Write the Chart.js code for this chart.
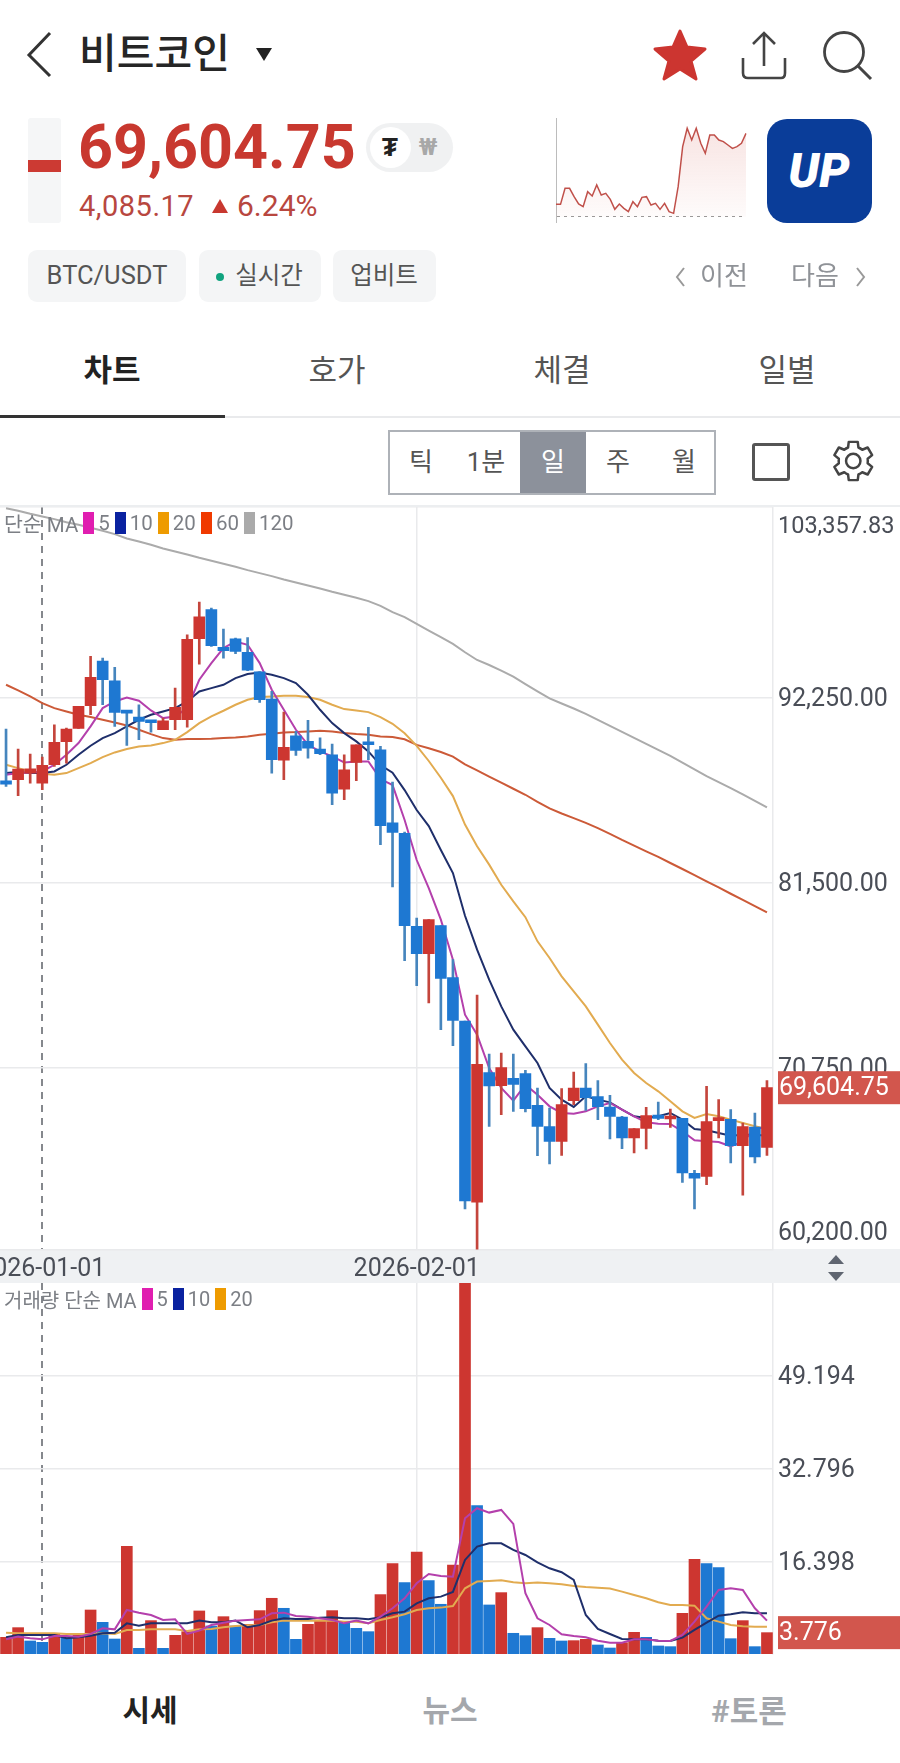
<!DOCTYPE html>
<html lang="ko">
<head>
<meta charset="utf-8">
<title>비트코인</title>
<script src="https://cdn.jsdelivr.net/npm/chart.js@4"></script>
<style>
html,body{margin:0;padding:0;background:#fff;}
#page{position:relative;width:900px;height:1763px;overflow:hidden;background:#fff;font-family:Roboto,"Noto Sans CJK KR",sans-serif;color:#222;}
.t{position:absolute;white-space:nowrap;line-height:1;}
.c{transform:translate(-50%,-50%);}
.m{transform:translateY(-50%);}
.box{position:absolute;box-sizing:border-box;}
canvas{position:absolute;display:block;}
svg{position:absolute;overflow:visible;}
.chip{position:absolute;background:#f4f5f6;border-radius:9px;top:250px;height:52px;}
.seg{position:absolute;top:432px;height:61px;width:66px;text-align:center;line-height:60px;font-size:26px;color:#555;}
.legend{position:absolute;left:4px;font-size:20.5px;color:#7c7f85;white-space:nowrap;display:flex;align-items:center;height:24px;}
.legend i{display:inline-block;width:11px;height:22px;margin:0 4px 0 5px;}
.legend span{display:inline-block;}
</style>
</head>
<body>
<div id="page">
  <!-- header -->
  <svg style="left:0;top:0" width="900" height="120"><polyline points="50,33 29,55 50,76" fill="none" stroke="#333" stroke-width="3"/>
    <polygon points="680,31 687,47 705,49 691,61 696,79 680,69 664,79 669,61 655,49 673,47" fill="#cc3530" stroke="#cc3530" stroke-width="3" stroke-linejoin="round"/>
    <path d="M743,58 V73 Q743,78 748,78 H781 Q785,78 785,73 V58" fill="none" stroke="#444" stroke-width="2.6"/>
    <path d="M764,66 V33 M753,44 L764,33 L775,44" fill="none" stroke="#444" stroke-width="2.6"/>
    <circle cx="844" cy="52" r="19.500" fill="none" stroke="#444" stroke-width="2.8"/><line x1="858" y1="66" x2="871" y2="79" stroke="#444" stroke-width="3"/>
    <polygon points="256,48 272,48 264,61" fill="#222"/></svg>
  <div class="t m" style="left:79px;top:54px;font-size:41px;font-weight:500;color:#262626;">비트코인</div>

  <div class="box" style="left:28px;top:118px;width:33px;height:105px;background:#f5f6f7;border-radius:3px;"></div>
  <div class="box" style="left:28px;top:160px;width:33px;height:12px;background:#cc3a33;"></div>
  <div class="t m" style="left:78px;top:147px;font-size:61px;font-weight:700;color:#c8382f;">69,604.75</div>
  <div class="t m" style="left:79px;top:206px;font-size:29px;letter-spacing:.5px;color:#b8473f;">4,085.17</div>
  <svg style="left:0;top:0" width="300" height="230"><polygon points="212,213 228,213 220,199" fill="#c8382f"/></svg>
  <div class="t m" style="left:237px;top:206px;font-size:30px;color:#b8473f;">6.24%</div>
  <div class="box" style="left:366px;top:123px;width:87px;height:49px;background:#f0f1f2;border-radius:25px;"></div>
  <div class="box" style="left:370px;top:127px;width:41px;height:41px;background:#fff;border-radius:50%;"></div>
  <div class="t c" style="left:390px;top:147px;font-size:26px;font-weight:700;color:#222;">₮</div>
  <div class="t c" style="left:428px;top:147px;font-size:23px;font-weight:700;color:#a8a8a8;">₩</div>
  <canvas id="spark" width="202" height="105" style="left:546px;top:118px;"></canvas>
  <div class="box" style="left:767px;top:119px;width:105px;height:104px;background:#0a3d99;border-radius:20px;"></div>
  <div class="t c" style="left:819px;top:171px;font-size:48px;font-weight:900;font-style:italic;color:#fff;">UP</div>

  <div class="chip" style="left:28px;width:158px;"></div>
  <div class="t c" style="left:107px;top:276px;font-size:25.500px;color:#555;">BTC/USDT</div>
  <div class="chip" style="left:199px;width:122px;"></div>
  <div class="box" style="left:216px;top:273px;width:8px;height:8px;border-radius:50%;background:#10a37f;"></div>
  <div class="t c" style="left:269px;top:276px;font-size:24.500px;color:#555;">실시간</div>
  <div class="chip" style="left:333px;width:103px;"></div>
  <div class="t c" style="left:384px;top:276px;font-size:24.500px;color:#555;">업비트</div>
  <svg style="left:0;top:0" width="900" height="300"><polyline points="684,268 677,277 684,286" fill="none" stroke="#999" stroke-width="2"/><polyline points="857,268 864,277 857,286" fill="none" stroke="#999" stroke-width="2"/></svg>
  <div class="t c" style="left:724px;top:276px;font-size:26px;color:#8f9297;">이전</div>
  <div class="t c" style="left:815px;top:276px;font-size:26px;color:#8f9297;">다음</div>

  <!-- tabs -->
  <div class="t c" style="left:112px;top:370px;font-size:31px;font-weight:700;color:#222;">차트</div>
  <div class="t c" style="left:337px;top:370px;font-size:31px;color:#555;">호가</div>
  <div class="t c" style="left:562px;top:370px;font-size:31px;color:#555;">체결</div>
  <div class="t c" style="left:787px;top:370px;font-size:31px;color:#555;">일별</div>
  <div class="box" style="left:0;top:416px;width:900px;height:2px;background:#e9eaec;"></div>
  <div class="box" style="left:0;top:415px;width:225px;height:3px;background:#333;"></div>

  <!-- period control -->
  <div class="box" style="left:388px;top:430px;width:328px;height:65px;border:2px solid #aeb2b8;"></div>
  <div class="seg" style="left:388px;">틱</div>
  <div class="seg" style="left:453px;">1분</div>
  <div class="seg" style="left:520px;background:#8c919b;color:#fff;">일</div>
  <div class="seg" style="left:585px;">주</div>
  <div class="seg" style="left:651px;">월</div>
  <div class="box" style="left:752px;top:443px;width:38px;height:38px;border:3px solid #555;border-radius:3px;"></div>
  <svg style="left:824px;top:434px" width="54" height="54" viewBox="0 0 24 24"><path d="M19.4 13a7.500 7.500 0 0 0 0-2l2-1.600-2-3.400-2.400 1a7.500 7.500 0 0 0-1.700-1L15 3.500h-4l-.3 2.500a7.500 7.500 0 0 0-1.700 1l-2.400-1-2 3.400 2 1.600a7.500 7.500 0 0 0 0 2l-2 1.600 2 3.400 2.400-1a7.500 7.500 0 0 0 1.700 1l.3 2.500h4l.3-2.500a7.500 7.500 0 0 0 1.700-1l2.400 1 2-3.400z" fill="none" stroke="#444" stroke-width="1.100" stroke-linejoin="round"/><circle cx="13" cy="12" r="3.200" fill="none" stroke="#444" stroke-width="1.100"/></svg>

  <!-- chart panes -->
  <div class="box" style="left:0;top:505px;width:900px;height:2px;background:#eceef0;"></div>
  <div class="box" style="left:0;top:1249px;width:900px;height:34px;background:#eff1f3;"></div>
  <canvas id="price" width="900" height="776" style="left:0;top:507px;"></canvas>
  <canvas id="volume" width="900" height="373" style="left:0;top:1283px;"></canvas>
  <svg style="left:0;top:0" width="900" height="1300"><polygon points="828,1264 844,1264 836,1255" fill="#5f6570"/><polygon points="828,1272 844,1272 836,1281" fill="#5f6570"/></svg>

  <div class="legend" style="top:511px;"><span>단순 MA</span><i style="background:#e01eb0"></i><span>5</span><i style="background:#0a22a0"></i><span>10</span><i style="background:#ee9b00"></i><span>20</span><i style="background:#f03a00"></i><span>60</span><i style="background:#aaaaaa"></i><span>120</span></div>
  <div class="legend" style="top:1287px;font-size:20px;"><span>거래량 단순 MA</span><i style="background:#e01eb0"></i><span>5</span><i style="background:#0a22a0"></i><span>10</span><i style="background:#ee9b00"></i><span>20</span></div>

  <!-- bottom nav -->
  <div class="t c" style="left:150px;top:1711px;font-size:30px;font-weight:700;color:#222;">시세</div>
  <div class="t c" style="left:450px;top:1711px;font-size:30px;font-weight:700;color:#a4a7ac;">뉴스</div>
  <div class="t c" style="left:749px;top:1711px;font-size:31px;font-weight:700;color:#a4a7ac;">#토론</div>
</div>

<script>
const dates = ["2025-12-29","2025-12-30","2025-12-31",
"2026-01-01","2026-01-02","2026-01-03","2026-01-04","2026-01-05","2026-01-06","2026-01-07","2026-01-08","2026-01-09","2026-01-10","2026-01-11","2026-01-12","2026-01-13","2026-01-14","2026-01-15","2026-01-16","2026-01-17","2026-01-18","2026-01-19","2026-01-20","2026-01-21","2026-01-22","2026-01-23","2026-01-24","2026-01-25","2026-01-26","2026-01-27","2026-01-28","2026-01-29","2026-01-30","2026-01-31",
"2026-02-01","2026-02-02","2026-02-03","2026-02-04","2026-02-05","2026-02-06","2026-02-07","2026-02-08","2026-02-09","2026-02-10","2026-02-11","2026-02-12","2026-02-13","2026-02-14","2026-02-15","2026-02-16","2026-02-17","2026-02-18","2026-02-19","2026-02-20","2026-02-21","2026-02-22","2026-02-23","2026-02-24","2026-02-25","2026-02-26","2026-02-27","2026-02-28",
"2026-03-01","2026-03-02"];
const dateLabels = ["2026-01-01","2026-02-01"];
const dashedDate = "2026-01-01";

const opens  = [87446,87504,87892,87311,88376,89713,90487,91804,94400,93257,91436,91146,90875,90410,90991,90991,95698,97402,95194,95698,94904,93780,92192,88647,90061,89732,89286,88957,86962,88512,89577,89248,85006,84386,
78982,77394,79021,75999,73481,62944,70479,69723,70150,70421,68581,67341,66489,68852,69588,69084,68484,67903,66682,67244,68019,67786,67825,64629,64455,67690,67767,66237,67322,66140];
const highs  = [90449,89286,88996,88822,90700,90507,91766,94671,94574,94032,91436,91863,90875,91088,92831,95930,97829,97480,96260,95737,95775,93780,92637,91436,90313,90952,89945,89577,88957,89538,90545,89441,87370,84463,
79467,79370,79021,77045,73481,74992,71564,71622,71564,70614,69588,68426,69549,70518,71002,70014,69162,67941,67225,68464,68774,68367,67825,64803,69685,68910,68329,67554,68135,70014];
const lows   = [87117,86575,87311,86923,88279,88473,90487,91281,91863,90604,89499,89829,90274,90410,90410,90565,94226,95252,94574,94826,93838,91998,87892,87504,88918,88763,88957,86052,86342,87446,88667,83727,81269,76987,
75534,74527,72978,72048,62556,60100,67360,68038,68232,68193,65656,65171,65675,68619,68290,67748,66624,66062,65811,66043,67748,67302,64106,62556,63970,66682,65230,63351,65230,65675];
const closes = [87253,88124,88144,88337,89674,90449,91766,93451,93315,91417,91378,90894,90817,90933,91708,95659,96976,95291,95001,94962,93877,92153,88667,89383,89209,89344,89015,86730,88085,89538,89538,84831,84444,79021,
77394,79370,75961,73520,63021,70963,69704,70769,69801,68387,67360,66489,68619,69588,69026,68503,67941,66682,67225,67980,67825,67844,64648,64339,67631,67767,66237,67341,65578,69604.75];

const ma5 = [87795,87892,87930,87989,88376,88957,89635,90604,91669,92056,92289,92095,91533,91088,91185,91669,93315,94284,95156,95543,95349,94284,92734,91572,90410,89538,89151,88860,88512,88570,88570,87544,87195,85162,
82838,81211,79370,77045,73849,72687,70750,69588,68852,69781,69200,68522,68135,68096,68232,68522,68716,68329,67941,67593,67515,67496,67070,66547,66489,66450,66198,66489,67167,67360];
const ma10 = [87892,87950,87892,87892,87989,88376,88957,89480,89926,90216,90604,90991,91281,91475,91669,92056,92637,92831,93025,93412,93645,93741,93606,93412,93122,92444,91572,90797,90216,89732,89151,88357,87918,86905,
85743,84813,83419,82082,79600,77626,75883,74333,72978,72009,71041,69588,68910,68484,69104,68910,68755,68329,67941,67844,67941,68135,67748,67205,67128,66973,66818,66876,66876,66818];
const ma20 = [88376,88182,87989,87853,87795,87892,88182,88473,88822,89093,89286,89441,89499,89635,89829,90274,90797,91185,91514,91863,92153,92308,92347,92386,92386,92308,92153,91863,91611,91533,91436,91146,90759,90209,
89470,88595,87623,86554,84902,83638,82569,81402,80430,79517,78111,77142,76077,75205,74333,73268,72203,71234,70459,69878,69394,68813,68232,67844,68077,67941,67748,67554,67360,67205];
const ma60 = [93025,92695,92347,91960,91669,91475,91281,91146,90991,90836,90662,90410,90158,89926,89829,89868,89868,89887,89926,89964,90022,90119,90177,90255,90274,90313,90352,90313,90216,90158,90119,90022,89984,89859,
89528,89334,89120,88848,88401,88051,87682,87332,86982,86632,86224,85835,85543,85271,84999,84688,84357,84007,83677,83346,83016,82666,82316,81966,81597,81247,80878,80528,80158,79789];
const ma120 = [103291,103136,102962,102807,102652,102477,102322,102148,101974,101780,101528,101354,101160,100947,100773,100598,100405,100230,100056,99882,99688,99514,99339,99146,98971,98797,98623,98429,98255,98080,97887,97615,97247,96954,
96566,96177,95788,95399,94913,94466,94175,93844,93494,93066,92639,92231,91939,91647,91336,90986,90636,90287,89937,89587,89237,88887,88498,88109,87720,87371,87021,86651,86282,85893];

const volumes = [2.95,4.66,2.30,2.06,3.54,2.89,3.36,7.78,5.60,2.65,19.04,1.00,5.90,1.00,3.30,3.95,7.61,4.95,6.60,4.95,5.25,7.67,9.85,8.08,2.59,5.25,6.01,7.67,5.42,4.54,3.95,10.50,15.98,12.62,
18.04,12.97,8.79,15.74,70.00,26.24,8.67,10.85,3.66,3.24,4.66,2.77,2.30,2.36,2.59,1.59,1.06,2.00,3.83,2.95,1.42,1.30,7.19,16.75,15.98,15.27,2.71,5.90,1.30,3.776];
const volumeUp = [1,1,0,0,1,0,1,1,0,0,1,0,1,0,1,1,1,0,1,0,1,1,1,0,0,1,1,1,0,0,0,1,1,0,
1,0,0,1,1,0,0,1,0,0,1,0,0,1,1,0,0,1,1,0,0,0,1,1,0,0,0,1,0,1];
const volMa5 = [2.59,3.07,2.77,2.59,3.18,3.18,3.07,3.54,4.54,4.36,7.78,7.31,6.90,6.01,6.13,3.54,4.13,5.13,5.54,5.90,6.01,6.13,7.19,7.31,6.72,6.60,6.31,6.01,5.42,5.90,5.42,6.60,8.08,9.85,
12.50,14.15,13.80,13.68,24.00,25.77,25.00,25.47,23.00,10.73,6.31,5.13,3.48,3.18,2.95,2.36,2.00,2.00,2.59,2.59,2.36,2.30,3.36,5.72,8.37,11.32,11.62,11.32,8.08,5.90];
const volMa10 = [2.95,3.36,3.36,3.36,3.36,2.77,2.95,3.24,3.66,3.77,5.42,5.01,5.42,5.42,5.42,5.42,5.90,5.60,5.60,5.90,4.72,5.13,5.90,6.31,6.19,6.19,6.43,6.49,6.31,6.31,6.13,6.49,7.19,7.49,
8.96,9.85,10.14,10.97,16.63,18.99,19.58,19.58,18.40,17.51,16.21,15.15,14.45,13.09,6.90,4.42,3.54,2.65,2.59,2.59,2.36,2.30,2.89,4.25,5.54,6.78,7.02,7.37,7.19,7.19];
const volMa20 = [3.77,3.66,3.66,3.66,3.66,3.54,3.54,3.54,3.66,3.54,4.25,4.25,4.36,4.36,4.36,4.07,4.36,4.42,4.72,4.95,5.07,5.13,5.60,5.90,5.90,5.90,5.90,5.90,5.72,5.72,5.42,6.01,6.49,7.02,
7.78,8.08,8.20,8.49,11.62,12.80,12.91,13.03,12.68,12.50,12.62,12.50,12.32,12.03,11.85,11.73,11.56,11.03,10.44,9.85,9.14,8.67,8.67,8.55,6.31,5.72,5.13,4.89,4.83,4.83];

const priceTicks = [60200,70750,81500,92250,103357.83];
const volumeTicks = [16.398,32.796,49.194];
const sparkValues = [37,37,85,85,60,38,30,75,62,95,65,70,52,22,38,25,15,45,30,58,60,35,40,22,40,15,10,90,210,265,230,265,220,190,245,245,230,225,215,205,210,220,250];

const RED='#cd3630', BLUE='#1e78d2', RED_W='#c4453c', BLUE_W='#4685bd';
const FONT='Roboto, "Noto Sans CJK KR", sans-serif';
const TXT='#4a4e57';
const n = dates.length;
const isUp = opens.map((o,i)=>closes[i]>=o);

function fmtPrice(v){return v.toLocaleString('en-US',{minimumFractionDigits:2,maximumFractionDigits:2});}

function xAxis(showLabels){
  return {
    type:'category', offset:true,
    grid:{offset:false, drawTicks:false,
      color:c=>dates[c.index]===dashedDate?'#85888d':(dateLabels.includes(dates[c.index])?'#e9eaec':'transparent'),
      lineWidth:c=>dates[c.index]===dashedDate?2:(dateLabels.includes(dates[c.index])?1.5:0)},
    border:{display:false, dash:c=>dates[c.index]===dashedDate?[7,6]:[]},
    ticks:{display:showLabels, autoSkip:false, maxRotation:0, minRotation:0, padding:5, color:TXT, font:{family:FONT,size:25},
      callback(v,i){const d=dates[i];return dateLabels.includes(d)?d:'';}},
    afterFit(s){s.height=showLabels?33.5:0; s.paddingLeft=0; s.paddingRight=0;}
  };
}
function maDs(label,data,color){
  return {type:'line',label,data,borderColor:color,borderWidth:2,pointRadius:0,tension:0,fill:false,order:5,spanGaps:true};
}
function priceTag(value,text,scaleId,h){
  return {id:'tag'+scaleId,afterDraw(ch){
    const y=ch.scales.y.getPixelForValue(value),ctx=ch.ctx;
    ctx.save();ctx.fillStyle='#d2564d';ctx.fillRect(778,y-h/2,122,h);
    ctx.fillStyle='#fff';ctx.font='25px '+FONT;ctx.textAlign='left';ctx.textBaseline='middle';
    ctx.fillText(text,779,y+1);ctx.restore();}};
}

new Chart(document.getElementById('price'),{
  type:'bar',
  data:{labels:dates,datasets:[
    maDs('MA5',ma5,'#b440ac'),maDs('MA10',ma10,'#1f2f6b'),maDs('MA20',ma20,'#e2ab50'),maDs('MA60',ma60,'#cc5a38'),maDs('MA120',ma120,'#ababab'),
    {label:'wick',data:lows.map((l,i)=>[l,highs[i]]),backgroundColor:isUp.map(u=>u?RED_W:BLUE_W),barThickness:2,grouped:false,order:2},
    {label:'candle',data:opens.map((o,i)=>[o,closes[i]]),backgroundColor:isUp.map(u=>u?RED:BLUE),barThickness:11,minBarLength:3,grouped:false,order:1}
  ]},
  options:{responsive:false,animation:false,layout:{padding:0},
    plugins:{legend:{display:false},tooltip:{enabled:false}},
    scales:{
      x:xAxis(true),
      y:{type:'linear',position:'right',min:60200,max:103357.83,
        afterBuildTicks(s){s.ticks=priceTicks.map(v=>({value:v}));},
        grid:{drawTicks:false,color:'#e9eaec',lineWidth:1.5},
        border:{display:true,color:'#e9eaec',width:1.5},
        ticks:{color:TXT,padding:5,labelOffset:2,
          font:c=>({family:FONT,size:c.index===4?23.5:25,lineHeight:c.index===4?1.55:1.45}),
          callback(v){const s=fmtPrice(v);return v===priceTicks[0]?[s,'']:(v===priceTicks[4]?['',s]:s);}},
        afterFit(s){s.width=127;s.paddingTop=0;s.paddingBottom=0;}
      }
    }},
  plugins:[priceTag(closes[n-1],fmtPrice(closes[n-1]),'p',33)]
});

new Chart(document.getElementById('volume'),{
  type:'bar',
  data:{labels:dates,datasets:[
    maDs('MA5',volMa5,'#b440ac'),maDs('MA10',volMa10,'#1f2f6b'),maDs('MA20',volMa20,'#e2ab50'),
    {label:'volume',data:volumes,backgroundColor:volumeUp.map(u=>u?RED:BLUE),barThickness:11,grouped:false,order:8}
  ].map(d=>{if(d.type==='line')d.order=1;return d;})},
  options:{responsive:false,animation:false,layout:{padding:{bottom:2}},
    plugins:{legend:{display:false},tooltip:{enabled:false}},
    scales:{
      x:xAxis(false),
      y:{type:'linear',position:'right',min:0,max:65.592,
        afterBuildTicks(s){s.ticks=volumeTicks.map(v=>({value:v}));},
        grid:{drawTicks:false,color:'#e9eaec',lineWidth:1.5},
        border:{display:true,color:'#e9eaec',width:1.5},
        ticks:{color:TXT,padding:5,labelOffset:2,font:{family:FONT,size:25},callback(v){return v.toFixed(3);}},
        afterFit(s){s.width=127;s.paddingTop=0;s.paddingBottom=0;}
      }
    }},
  plugins:[priceTag(volumes[n-1],volumes[n-1].toFixed(3),'v',33)]
});

const sparkEl=document.getElementById('spark');
const sg=sparkEl.getContext('2d').createLinearGradient(0,0,0,105);
sg.addColorStop(0,'rgba(205,70,60,0.16)');sg.addColorStop(1,'rgba(205,70,60,0.01)');
new Chart(sparkEl,{
  type:'line',
  data:{labels:sparkValues.map((_,i)=>i),datasets:[{data:sparkValues,borderColor:'#c0504a',borderWidth:1.5,pointRadius:0,tension:0,fill:{target:{value:0}},backgroundColor:sg}]},
  options:{responsive:false,animation:false,layout:{padding:{left:10,right:2}},
    plugins:{legend:{display:false},tooltip:{enabled:false}},
    scales:{
      x:{display:false,offset:false},
      y:{display:true,position:'left',min:-19,max:296,
        afterBuildTicks(s){s.ticks=[{value:0}];},
        grid:{drawTicks:false,color:'#9a9a9a',lineWidth:1},
        border:{display:true,color:'#bcbcbc',width:1,dash:[3,4]},
        ticks:{display:false},
        afterFit(s){s.width=0;}
      }
    }}
});
</script>
</body>
</html>
